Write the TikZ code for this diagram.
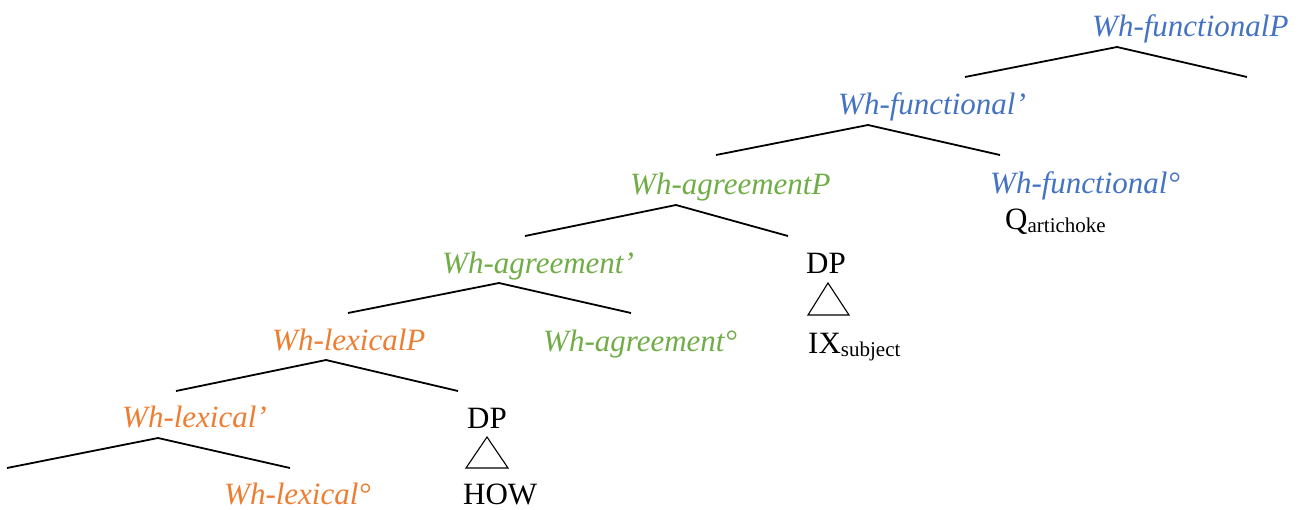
\documentclass[tikz,border=0pt]{standalone}
\usepackage{fontspec}
\setmainfont{Liberation Serif}
\definecolor{wblue}{HTML}{4472C4}
\definecolor{wgreen}{HTML}{70AD47}
\definecolor{worange}{HTML}{ED7D31}
\tikzset{
  lbl/.style={inner sep=0pt, anchor=base west, font=\fontsize{31}{37}\selectfont\itshape},
  plain/.style={inner sep=0pt, anchor=base west, font=\fontsize{31}{37}\selectfont},
  branch/.style={line width=1.8pt, black},
  tri/.style={line width=1.1pt, black, line join=miter}
}
\newcommand{\subtx}[1]{\raisebox{-0.12em}{\fontsize{21}{24}\selectfont #1}}
\begin{document}
\begin{tikzpicture}[x=1pt,y=-1pt]
\useasboundingbox (0,0) rectangle (1306,509);
% labels
\node[lbl, text=wblue] (fP) at (1092,36) {Wh-functionalP};
\node[lbl, text=wblue] (fbar) at (838,114) {Wh-functional’};
\node[lbl, text=wblue] (fhead) at (990,193) {Wh-functional°};
\node[plain] (q) at (1005,229) {Q\subtx{artichoke}};
\node[lbl, text=wgreen] (aP) at (630,194) {Wh-agreementP};
\node[plain] (dp1) at (806,273) {DP};
\node[plain] (ix) at (808,353) {IX\subtx{subject}};
\node[lbl, text=wgreen] (abar) at (442,273) {Wh-agreement’};
\node[lbl, text=wgreen] (ahead) at (543,351) {Wh-agreement°};
\node[lbl, text=worange] (lP) at (272,350) {Wh-lexicalP};
\node[plain] (dp2) at (467,428) {DP};
\node[plain] (how) at (463,504) {HOW};
\node[lbl, text=worange] (lbar) at (122,427) {Wh-lexical’};
\node[lbl, text=worange] (lhead) at (224,504) {Wh-lexical°};
% branch points
\coordinate (t0) at (1117,47);  \coordinate (t0l) at (965,77);  \coordinate (t0r) at (1247,77);
\coordinate (t1) at (868,125);  \coordinate (t1l) at (716,155); \coordinate (t1r) at (1000,155);
\coordinate (t2) at (676,205);  \coordinate (t2l) at (525,236); \coordinate (t2r) at (788,236);
\coordinate (t3) at (499,283);  \coordinate (t3l) at (348,313); \coordinate (t3r) at (631,313);
\coordinate (t4) at (326,360);  \coordinate (t4l) at (176,391); \coordinate (t4r) at (458,391);
\coordinate (t5) at (158,438);  \coordinate (t5l) at (7,468);   \coordinate (t5r) at (290,468);
\foreach \n in {t0,t1,t2,t3,t4,t5}{
  \draw[branch] (\n l) -- (\n) -- (\n r);
}
% triangles
\coordinate (a1) at (828,283); \coordinate (b1) at (808,315); \coordinate (c1) at (849,315);
\draw[tri] (a1) -- (b1) -- (c1) -- cycle;
\coordinate (a2) at (487,437); \coordinate (b2) at (466,468); \coordinate (c2) at (508,468);
\draw[tri] (a2) -- (b2) -- (c2) -- cycle;
\end{tikzpicture}
\end{document}
